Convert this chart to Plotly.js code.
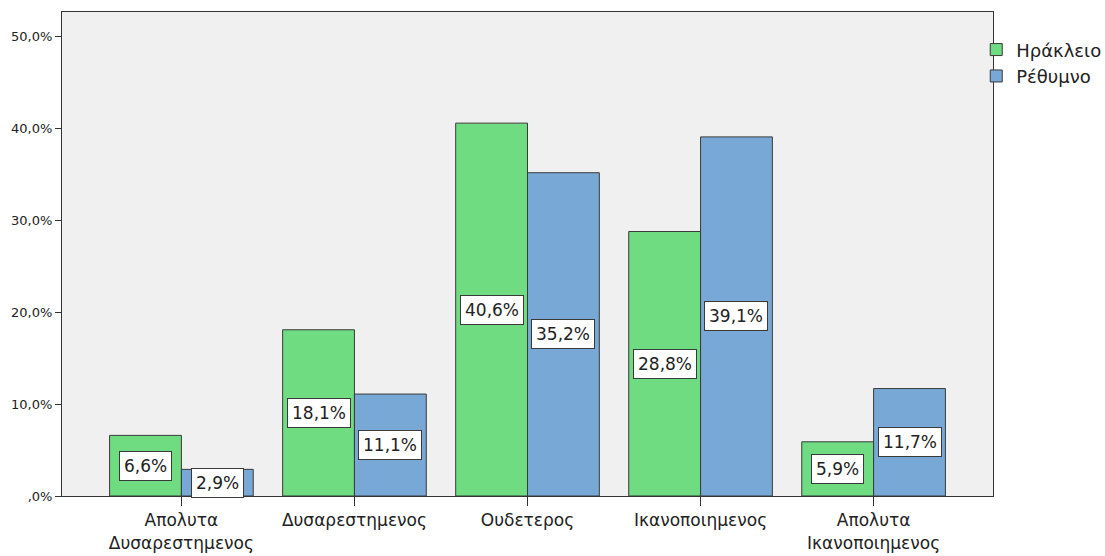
<!DOCTYPE html>
<html><head><meta charset="utf-8">
<script src="https://cdn.plot.ly/plotly-3.0.1.min.js"></script>
<style>body{margin:0;background:#fff}#c{width:1105px;height:556px}</style>
</head><body><div id="c"></div>
<script>
var categories = ["Απολυτα<br>Δυσαρεστημενος", "Δυσαρεστημενος", "Ουδετερος", "Ικανοποιημενος", "Απολυτα<br>Ικανοποιημενος"];
var seriesNames = ["Ηράκλειο", "Ρέθυμνο"];
var heraklion = [6.6, 18.1, 40.6, 28.8, 5.9];
var rethymno = [2.9, 11.1, 35.2, 39.1, 11.7];
var yTickVals = [0, 10, 20, 30, 40, 50];
var yTickText = [",0%", "10,0%", "20,0%", "30,0%", "40,0%", "50,0%"];

var FONT = 'DejaVu Sans, Arial, sans-serif';
var colors = ["#6fdc82", "#78a8d6"];
var series = [heraklion, rethymno];
var traces = series.map(function(vals, i){
  return {type:'bar', name:seriesNames[i], x:categories, y:vals,
    marker:{color:colors[i], line:{color:'#3a3a3a', width:1}},
    hoverinfo:'none'};
});
var fmt = function(v){ return v.toFixed(1).replace('.', ',') + '%'; };
var offs = [-0.2075, 0.2075];
var annotations = [];
series.forEach(function(vals, i){
  vals.forEach(function(v, j){
    annotations.push({x:j+offs[i], y:v/2, xref:'x', yref:'y', text:fmt(v), showarrow:false,
      font:{family:FONT, size:17, color:'#222'},
      bgcolor:'#ffffff', bordercolor:'#3a3a3a', borderwidth:1, borderpad:4});
  });
});
var layout = {
  width:1105, height:556,
  margin:{l:62, r:112, t:12, b:60, autoexpand:false},
  paper_bgcolor:'#ffffff', plot_bgcolor:'#f0f0f0',
  barmode:'group', bargap:0.17, bargroupgap:0,
  showlegend:true,
  legend:{x:0.982, y:0.96, xanchor:'left', yanchor:'top', font:{family:FONT, size:18, color:'#222'}, bgcolor:'rgba(0,0,0,0)', tracegroupgap:0, itemwidth:30},
  xaxis:{type:'category', range:[-0.69, 4.69], showline:true, linecolor:'#333', linewidth:1, mirror:true,
    ticks:'outside', ticklen:9, tickcolor:'#333', showgrid:false, zeroline:false,
    tickfont:{family:FONT, size:17, color:'#222'}},
  yaxis:{range:[0, 52.7], tickvals:yTickVals, ticktext:yTickText, showline:true, linecolor:'#333', linewidth:1, mirror:true,
    ticks:'outside', ticklen:6, tickcolor:'#333', showgrid:false, zeroline:false,
    tickfont:{family:FONT, size:13, color:'#222'}},
  annotations:annotations
};
Plotly.newPlot('c', traces, layout, {displayModeBar:false, staticPlot:true});
</script></body></html>
